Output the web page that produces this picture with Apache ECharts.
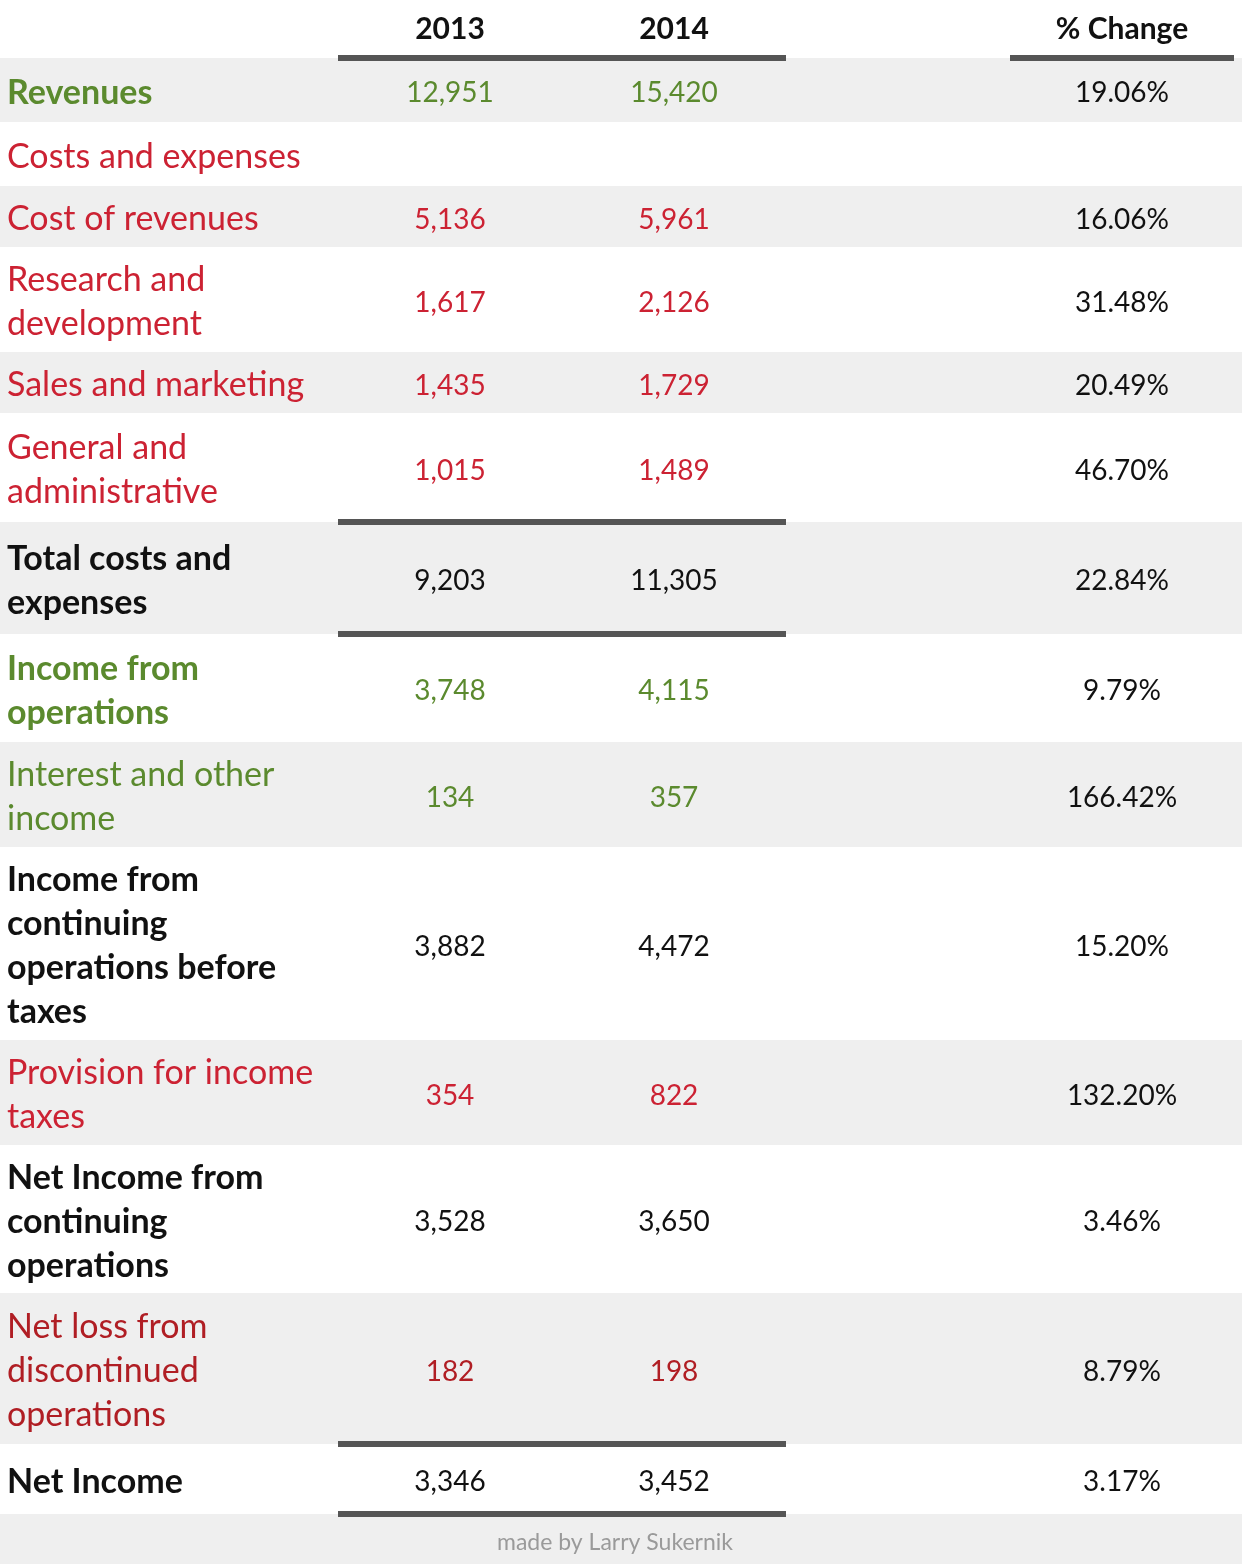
<!DOCTYPE html>
<html>
  <head>
    <meta charset="utf-8">
    <title>Income statement 2013 vs 2014</title>
    <script type="text/javascript" src="https://cdn.jsdelivr.net/npm/echarts@6/dist/echarts.min.js"></script>
    <style>
      html, body { margin: 0; padding: 0; background: #fff; }
    </style>
  </head>
  <body>
    <div id="main" style="width: 1242px;height:1564px;"></div>

    <script type="text/javascript">
    // table data
    var columnHeaders = ['2013', '2014', '% Change'];
    var rowLabels = [
      'Revenues',
      'Costs and expenses',
      'Cost of revenues',
      'Research and\ndevelopment',
      'Sales and marketing',
      'General and\nadministrative',
      'Total costs and\nexpenses',
      'Income from\noperations',
      'Interest and other\nincome',
      'Income from\ncontinuing\noperations before\ntaxes',
      'Provision for income\ntaxes',
      'Net Income from\ncontinuing\noperations',
      'Net loss from\ndiscontinued\noperations',
      'Net Income'
    ];
    var values2013 = [12951, null, 5136, 1617, 1435, 1015, 9203, 3748, 134, 3882, 354, 3528, 182, 3346];
    var values2014 = [15420, null, 5961, 2126, 1729, 1489, 11305, 4115, 357, 4472, 822, 3650, 198, 3452];
    var pctChange = ['19.06%', '', '16.06%', '31.48%', '20.49%', '46.70%', '22.84%',
                     '9.79%', '166.42%', '15.20%', '132.20%', '3.46%', '8.79%', '3.17%'];
    var footerText = 'made by Larry Sukernik';

    // layout / style (kept apart from the data)
    var W = 1242, H = 1564;
    var headerH = 58;
    var rowHeights = [64, 64, 61, 105, 61, 109, 112, 108, 105, 193, 105, 148, 151, 70];
    var rowKind = ['green', 'red', 'red', 'red', 'red', 'red', 'black', 'green', 'green',
                   'black', 'red', 'black', 'darkred', 'black'];
    var rowBold = [true, false, false, false, false, false, true, true, false, true, false, true, false, true];
    var kindColor = { green: '#5b8a2e', red: '#cc2233', darkred: '#b01e24', black: '#111' };
    var colX = [450, 674, 1122];
    var labelX = 7;
    var FONT = 'Lato, "Open Sans", sans-serif';

    var rowTop = [];
    var acc = headerH;
    for (var i = 0; i < rowHeights.length; i++) { rowTop.push(acc); acc += rowHeights[i]; }
    var tableBottom = acc;

    // [x0, x1, y] rule segments
    var rules = [
      [338, 786, headerH], [1010, 1234, headerH],
      [338, 786, rowTop[6]], [338, 786, rowTop[7]],
      [338, 786, rowTop[13]], [338, 786, tableBottom]
    ];

    function fmt(v) { return v == null ? '' : v.toLocaleString('en-US'); }

    var dom = document.getElementById('main');
    var myChart = echarts.init(dom, null, { renderer: 'canvas' });

    var option = {
      animation: false,
      backgroundColor: '#fff',
      grid: { left: 0, right: 0, top: 0, bottom: 0 },
      xAxis: { type: 'value', min: 0, max: W, show: false },
      yAxis: { type: 'value', min: 0, max: H, inverse: true, show: false },
      title: {
        text: footerText,
        left: 492,
        bottom: 5,
        textStyle: { fontFamily: FONT, fontSize: 23, fontWeight: 'normal', color: '#9a9a9a' }
      },
      series: [
        {
          // footer band
          type: 'custom',
          z: 1,
          data: [[tableBottom, H]],
          renderItem: function (params, api) {
            var p0 = api.coord([0, api.value(0)]);
            var p1 = api.coord([W, api.value(1)]);
            return { type: 'rect', shape: { x: p0[0], y: p0[1], width: p1[0] - p0[0], height: p1[1] - p0[1] },
                     style: { fill: '#efefef' } };
          }
        },
        {
          // column headers
          type: 'custom',
          z: 3,
          data: columnHeaders.map(function (h, j) { return [colX[j], headerH / 2]; }),
          renderItem: function (params, api) {
            var p = api.coord([api.value(0), api.value(1)]);
            return { type: 'text', style: {
              text: columnHeaders[params.dataIndex], x: p[0], y: p[1],
              align: 'center', verticalAlign: 'middle',
              fontFamily: FONT, fontSize: 30, fontWeight: 'bold', fill: '#111' } };
          }
        },
        {
          // table rows
          type: 'custom',
          z: 2,
          data: rowLabels.map(function (l, k) { return [rowTop[k], rowTop[k] + rowHeights[k]]; }),
          renderItem: function (params, api) {
            var k = params.dataIndex;
            var top = api.value(0), bottom = api.value(1), mid = (top + bottom) / 2;
            var color = kindColor[rowKind[k]];
            var children = [];
            if (k % 2 === 0) {
              var a = api.coord([0, top]), b = api.coord([W, bottom]);
              children.push({ type: 'rect', shape: { x: a[0], y: a[1], width: b[0] - a[0], height: b[1] - a[1] },
                              style: { fill: '#efefef' } });
            }
            var pl = api.coord([labelX, mid]);
            children.push({ type: 'text', style: {
              text: rowLabels[k], x: pl[0], y: pl[1] + 3, align: 'left', verticalAlign: 'middle',
              lineHeight: 44, fontFamily: FONT, fontSize: 34,
              fontWeight: rowBold[k] ? 'bold' : 'normal', fill: color } });
            var cells = [fmt(values2013[k]), fmt(values2014[k]), pctChange[k]];
            for (var j = 0; j < cells.length; j++) {
              var pc = api.coord([colX[j], mid]);
              children.push({ type: 'text', style: {
                text: cells[j], x: pc[0], y: pc[1] + 3, align: 'center', verticalAlign: 'middle',
                fontFamily: FONT, fontSize: 28, fontWeight: 'normal',
                fill: j === 2 ? '#111' : color } });
            }
            return { type: 'group', children: children };
          }
        },
        {
          // heavy rules
          type: 'custom',
          z: 4,
          data: rules,
          renderItem: function (params, api) {
            var a = api.coord([api.value(0), api.value(2)]);
            var b = api.coord([api.value(1), api.value(2)]);
            return { type: 'line', shape: { x1: a[0], y1: a[1], x2: b[0], y2: b[1] },
                     style: { stroke: '#555', lineWidth: 6 } };
          }
        }
      ]
    };

    myChart.setOption(option, true);
    </script>
  </body>
</html>
